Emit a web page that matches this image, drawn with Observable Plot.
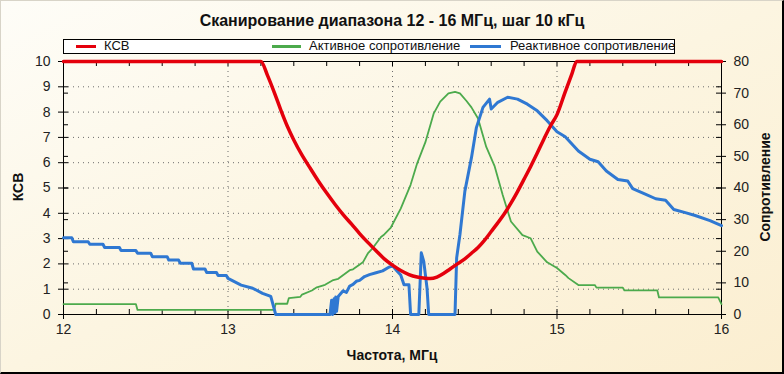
<!DOCTYPE html>
<html>
<head>
<meta charset="utf-8">
<script src="https://cdn.jsdelivr.net/npm/d3@7"></script>
<script src="https://cdn.jsdelivr.net/npm/@observablehq/plot@0.6"></script>
<style>
  html, body { margin: 0; padding: 0; }
  #wrap { position: relative; width: 784px; height: 374px; overflow: hidden;
    background: linear-gradient(to bottom right, #fefdf8 0%, #fcf5e1 50%, #fbeed0 100%);
    font-family: "Liberation Sans", Arial, sans-serif; }
  #border { position: absolute; left: 0; top: 0; width: 784px; height: 374px; box-sizing: border-box;
    border-top: 1px solid #d8d4c8; border-left: 1px solid #d8d4c8;
    border-right: 2px solid #000; border-bottom: 2px solid #000; pointer-events: none; }
  #chart { position: absolute; left: 0; top: 0; }
  .title { position: absolute; left: 0; width: 784px; top: 11px; line-height: 20px; text-align: center;
    font-weight: bold; font-size: 16px; color: #111; }
  #legend { position: absolute; left: 63px; top: 39px; width: 612px; height: 15px; box-sizing: border-box;
    border: 1px solid #000; background: #fff; }
  .lg-line { position: absolute; top: 5px; height: 3px; }
  .lg-text { position: absolute; top: -1px; line-height: 13px; font-size: 13px; color: #111; white-space: nowrap; }
  .axt { position: absolute; font-weight: bold; font-size: 14px; line-height: 14px; color: #111; white-space: nowrap;
    transform: translate(-50%, -50%); }
  .rot { transform: translate(-50%, -50%) rotate(-90deg); }
</style>
</head>
<body>
<div id="wrap">
  <div id="chart"></div>
  <div class="title" id="title"></div>
  <div id="legend"></div>
  <div class="axt rot" id="ylabL" style="left:18px; top:187px;"></div>
  <div class="axt rot" id="ylabR" style="left:765px; top:187px;"></div>
  <div class="axt" id="xlab" style="left:392px; top:355px;"></div>
  <div id="border"></div>
</div>
<script>
// ---- Text ----
const titleText = "Сканирование диапазона 12 - 16 МГц, шаг 10 кГц";
const seriesNames = ["КСВ", "Активное сопротивление", "Реактивное сопротивление"];
const seriesColors = ["#e4000c", "#4caa4c", "#2f78d2"];
const xTitle = "Частота, МГц";
const yTitleLeft = "КСВ";
const yTitleRight = "Сопротивление";

// ---- Ticks ----
const xMajorTicks = [12, 13, 14, 15, 16];
const xMinorTicks = [12.2, 12.4, 12.6, 12.8, 13.2, 13.4, 13.6, 13.8, 14.2, 14.4, 14.6, 14.8, 15.2, 15.4, 15.6, 15.8];
const ksvTicks = [0, 1, 2, 3, 4, 5, 6, 7, 8, 9, 10];
const ksvGrid = [1, 2, 3, 4, 5, 6, 7, 8, 9];
const xGrid = [13, 14, 15];
const rTicks = [0, 10, 20, 30, 40, 50, 60, 70, 80];
const rPerKsv = 8; // right axis 0..80 aligned with left 0..10

// ---- Data: КСВ (SWR) ----
const ksvFreq = [12.0, 13.2, 13.24, 13.28, 13.32, 13.36, 13.40, 13.45, 13.50, 13.55, 13.60, 13.65, 13.70, 13.75, 13.80,
  13.85, 13.90, 13.95, 14.00, 14.05, 14.10, 14.15, 14.20, 14.23, 14.27, 14.31, 14.35, 14.39, 14.44, 14.48,
  14.52, 14.56, 14.60, 14.64, 14.68, 14.72, 14.76, 14.80, 14.84, 14.88, 14.92, 14.96, 15.00, 15.05, 15.09, 15.12, 16.0];
const ksvVal = [10, 10, 9.45, 8.8, 8.1, 7.45, 6.9, 6.3, 5.78, 5.27, 4.8, 4.36, 3.95, 3.58, 3.2,
  2.85, 2.52, 2.2, 1.95, 1.74, 1.58, 1.48, 1.43, 1.42, 1.48, 1.62, 1.8, 1.98, 2.2, 2.42,
  2.65, 2.94, 3.28, 3.62, 3.98, 4.4, 4.86, 5.35, 5.85, 6.38, 6.93, 7.45, 7.9, 8.8, 9.5, 10, 10];

// ---- Data: Активное сопротивление (Ohm) ----
const actFreq = [12.0, 12.44, 12.45, 13.28, 13.29, 13.36, 13.37, 13.44, 13.45, 13.51, 13.54, 13.59, 13.64, 13.67, 13.74, 13.76,
  13.82, 13.85, 13.88, 13.93, 13.95, 13.99, 14.05, 14.11, 14.15, 14.20, 14.25, 14.29, 14.34, 14.38, 14.41, 14.45, 14.48,
  14.52, 14.57, 14.62, 14.67, 14.72, 14.79, 14.84, 14.88, 14.94, 15.0, 15.05, 15.07, 15.13, 15.23, 15.24, 15.40, 15.41,
  15.61, 15.62, 15.98, 16.0];
const actVal = [3.3, 3.3, 1.45, 1.45, 3.4, 3.4, 5.2, 5.6, 6.3, 7.6, 8.6, 9.4, 10.9, 11.3, 14.0, 14.3,
  16.5, 19.3, 21.0, 24.5, 25.3, 27.5, 33.5, 41.0, 47.8, 54.5, 63.5, 67.3, 69.9, 70.4, 69.9, 67.5, 65.5,
  62.0, 53.0, 47.0, 37.8, 29.4, 25.1, 24.1, 19.9, 16.5, 14.7, 12.5, 11.5, 9.3, 9.3, 8.5, 8.5, 7.6,
  7.6, 5.4, 5.4, 3.3];

// ---- Data: Реактивное сопротивление (Ohm) ----
const reaFreq = [12.0, 12.05, 12.06, 12.15, 12.16, 12.24, 12.25, 12.34, 12.35, 12.44, 12.45, 12.53, 12.54, 12.63, 12.64, 12.70,
  12.71, 12.78, 12.79, 12.86, 12.87, 12.93, 12.94, 12.99, 13.0, 13.08, 13.15, 13.21, 13.26, 13.29, 13.62,
  13.63, 13.635, 13.645, 13.65, 13.655, 13.66, 13.67, 13.70, 13.72, 13.74, 13.76, 13.78, 13.80, 13.83, 13.86, 13.90, 13.94,
  13.98, 14.0, 14.03, 14.05, 14.07, 14.10, 14.11, 14.16, 14.175, 14.19, 14.21, 14.22, 14.38, 14.39, 14.41, 14.44,
  14.48, 14.51, 14.55, 14.59, 14.60, 14.64, 14.70, 14.76, 14.82, 14.88, 14.94, 15.0, 15.05, 15.13, 15.20, 15.25,
  15.30, 15.37, 15.43, 15.46, 15.54, 15.60, 15.66, 15.71, 15.78, 15.84, 15.93, 16.0];
const reaVal = [24.3, 24.3, 23.0, 23.0, 22.2, 22.2, 21.2, 21.2, 20.2, 20.2, 19.4, 19.4, 18.3, 18.3, 17.2, 17.2,
  16.2, 16.2, 14.4, 14.4, 13.3, 13.3, 12.3, 12.3, 11.4, 9.3, 8.3, 6.7, 5.7, 0, 0,
  4.5, 0, 5.0, 0.5, 5.5, 1.0, 5.7, 7.5, 7.0, 9.0, 9.5, 10.5, 10.8, 12.0, 12.6, 13.2, 13.8,
  15.0, 15.4, 13.6, 12.5, 9.4, 9.4, 0, 0, 19.5, 16.8, 8.3, 0, 0, 17.9, 25.3, 39.0,
  49.6, 59.1, 65.5, 68.1, 65.0, 67.1, 68.7, 68.1, 66.5, 64.4, 61.3, 57.8, 56.2, 51.7, 49.1, 48.3,
  45.4, 42.7, 42.2, 39.8, 38.0, 36.6, 36.1, 33.2, 32.2, 31.3, 29.7, 28.1];

const ksvData = ksvFreq.map((f, i) => ({f, v: ksvVal[i]}));
const actData = actFreq.map((f, i) => ({f, v: actVal[i]}));
const reaData = reaFreq.map((f, i) => ({f, v: reaVal[i]}));

const xLo = xMajorTicks[0], xHi = xMajorTicks[xMajorTicks.length - 1];
const dotted = {stroke: "#6b6b6b", strokeOpacity: 1, strokeWidth: 1, strokeDasharray: "1,4"};
const tickStyle = {stroke: "#000", strokeWidth: 1};

const chart = Plot.plot({
  width: 784,
  height: 374,
  marginLeft: 63,
  marginRight: 63,
  marginTop: 61,
  marginBottom: 60,
  x: {domain: [xLo, xHi]},
  y: {domain: [ksvTicks[0], ksvTicks[ksvTicks.length - 1]]},
  style: {background: "transparent", fontFamily: "'Liberation Sans', Arial, sans-serif", fontSize: "14px", color: "#222"},
  marks: [
    Plot.gridY(ksvGrid, dotted),
    Plot.gridX(xGrid, dotted),
    Plot.frame({stroke: "#000", strokeWidth: 1}),
    // left axis ticks
    Plot.ruleY(ksvTicks, {y: d => d, x1: xLo, x2: xLo, insetLeft: -5, insetRight: -5, ...tickStyle}),
    Plot.ruleY(rTicks, {y: d => d / rPerKsv, x1: xLo, x2: xLo, insetLeft: 0, insetRight: -5, ...tickStyle}),
    // right axis ticks
    Plot.ruleY(rTicks, {y: d => d / rPerKsv, x1: xHi, x2: xHi, insetLeft: -5, insetRight: -5, ...tickStyle}),
    Plot.ruleY(ksvTicks, {y: d => d, x1: xHi, x2: xHi, insetLeft: -5, insetRight: 0, ...tickStyle}),
    // bottom ticks
    Plot.ruleX(xMajorTicks, {x: d => d, y1: 0, y2: 0, insetTop: -5, insetBottom: -5, ...tickStyle}),
    Plot.ruleX(xMinorTicks, {x: d => d, y1: 0, y2: 0, insetTop: -5, insetBottom: 0, ...tickStyle}),
    // top ticks (inward)
    Plot.ruleX(xMinorTicks.concat(xGrid), {x: d => d, y1: 10, y2: 10, insetTop: 0, insetBottom: -5, ...tickStyle}),
    // tick labels
    Plot.axisY({anchor: "left", ticks: ksvTicks, tickSize: 0, tickPadding: 13, label: null, fontSize: 14}),
    Plot.axisY({anchor: "right", ticks: rTicks.map(d => d / rPerKsv), tickFormat: d => String(Math.round(d * rPerKsv)),
      tickSize: 0, tickPadding: 12, label: null, fontSize: 14}),
    Plot.axisX({anchor: "bottom", ticks: xMajorTicks, tickFormat: d => String(d), tickSize: 0, tickPadding: 10, label: null, fontSize: 14}),
    // series
    Plot.line(actData, {x: "f", y: d => d.v / rPerKsv, stroke: seriesColors[1], strokeWidth: 1.8}),
    Plot.line(reaData, {x: "f", y: d => d.v / rPerKsv, stroke: seriesColors[2], strokeWidth: 3}),
    Plot.line(ksvData, {x: "f", y: "v", stroke: seriesColors[0], strokeWidth: 3.5, curve: "monotone-x"})
  ]
});
document.getElementById("chart").appendChild(chart);

document.getElementById("title").textContent = titleText;
document.getElementById("xlab").textContent = xTitle;
document.getElementById("ylabL").textContent = yTitleLeft;
document.getElementById("ylabR").textContent = yTitleRight;

// legend
const legend = document.getElementById("legend");
const lgPos = [{line: [12, 32], text: 40}, {line: [208, 237], text: 245}, {line: [406, 437], text: 446}];
seriesNames.forEach((name, i) => {
  const ln = document.createElement("div");
  ln.className = "lg-line";
  ln.style.left = lgPos[i].line[0] + "px";
  ln.style.width = (lgPos[i].line[1] - lgPos[i].line[0]) + "px";
  ln.style.background = seriesColors[i];
  legend.appendChild(ln);
  const tx = document.createElement("span");
  tx.className = "lg-text";
  tx.style.left = lgPos[i].text + "px";
  tx.textContent = name;
  legend.appendChild(tx);
});
</script>
</body>
</html>
